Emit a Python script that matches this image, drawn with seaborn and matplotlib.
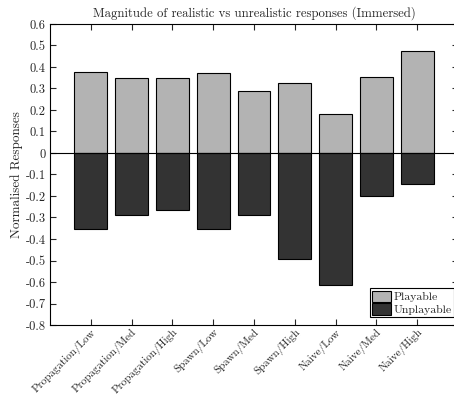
import matplotlib
matplotlib.use("Agg")
import matplotlib.pyplot as plt
import matplotlib.transforms as mtransforms
import seaborn as sns
import pandas as pd

categories = ["Propagation/Low", "Propagation/Med", "Propagation/High",
              "Spawn/Low", "Spawn/Med", "Spawn/High",
              "Naive/Low", "Naive/Med", "Naive/High"]
playable = [0.375, 0.347, 0.347, 0.372, 0.290, 0.327, 0.181, 0.355, 0.476]
unplayable = [-0.355, -0.287, -0.263, -0.353, -0.290, -0.491, -0.616, -0.202, -0.143]
yticks = [0.6, 0.5, 0.4, 0.3, 0.2, 0.1, 0, -0.1, -0.2, -0.3, -0.4, -0.5, -0.6, -0.7, -0.8]
ytick_labels = ["0.6", "0.5", "0.4", "0.3", "0.2", "0.1", "0", "-0.1", "-0.2", "-0.3",
                "-0.4", "-0.5", "-0.6", "-0.7", "-0.8"]

df = pd.DataFrame({
    "category": categories * 2,
    "group": ["Playable"] * len(categories) + ["Unplayable"] * len(categories),
    "value": playable + unplayable,
})

sns.set_style("white")
plt.rcParams["font.family"] = ["cmr10", "DejaVu Serif"]
plt.rcParams["axes.unicode_minus"] = False

fig = plt.figure(figsize=(4.54, 4.0), dpi=100)
ax = fig.add_axes([50 / 454, 75 / 400, 408 / 454, 301 / 400])

sns.barplot(data=df, x="category", y="value", hue="group", dodge=False,
            palette={"Playable": "#b3b3b3", "Unplayable": "#333333"},
            order=categories, width=0.8, edgecolor="black", linewidth=0.8,
            saturation=1, ax=ax)

ax.axhline(0, color="black", linewidth=0.8, zorder=5)
ax.set_xlim(-1, 9)
ax.set_ylim(-0.8, 0.6)
ax.set_yticks(yticks)
ax.set_yticklabels(ytick_labels, fontsize=9)
ax.set_xticks(range(len(categories)))
ax.set_xticklabels(categories, rotation=45, ha="right", rotation_mode="anchor", fontsize=7.9)
offset = mtransforms.ScaledTranslation(7 / 100, -2 / 100, fig.dpi_scale_trans)
for lab in ax.get_xticklabels():
    lab.set_transform(lab.get_transform() + offset)
ax.set_xlabel("")
ax.set_ylabel("Normalised Responses", fontsize=9.5, labelpad=2)
ax.set_title("Magnitude of realistic vs unrealistic responses (Immersed)", fontsize=9.2, pad=5)

ax.tick_params(axis="both", direction="in", length=4, width=0.8,
               top=True, bottom=True, left=True, right=True, pad=3)
ax.tick_params(axis="x", pad=1.5)
for s in ax.spines.values():
    s.set_color("black")
    s.set_linewidth(0.8)

leg = ax.legend(loc="lower right", bbox_to_anchor=(0.99, 0.025), fontsize=8.5,
                frameon=True, fancybox=False, edgecolor="black", framealpha=1,
                borderpad=0.2, handlelength=1.6, handleheight=1.1, handletextpad=0.2,
                labelspacing=0.1, borderaxespad=0)
leg.get_frame().set_linewidth(0.8)

fig.savefig("out.png", dpi=100)
